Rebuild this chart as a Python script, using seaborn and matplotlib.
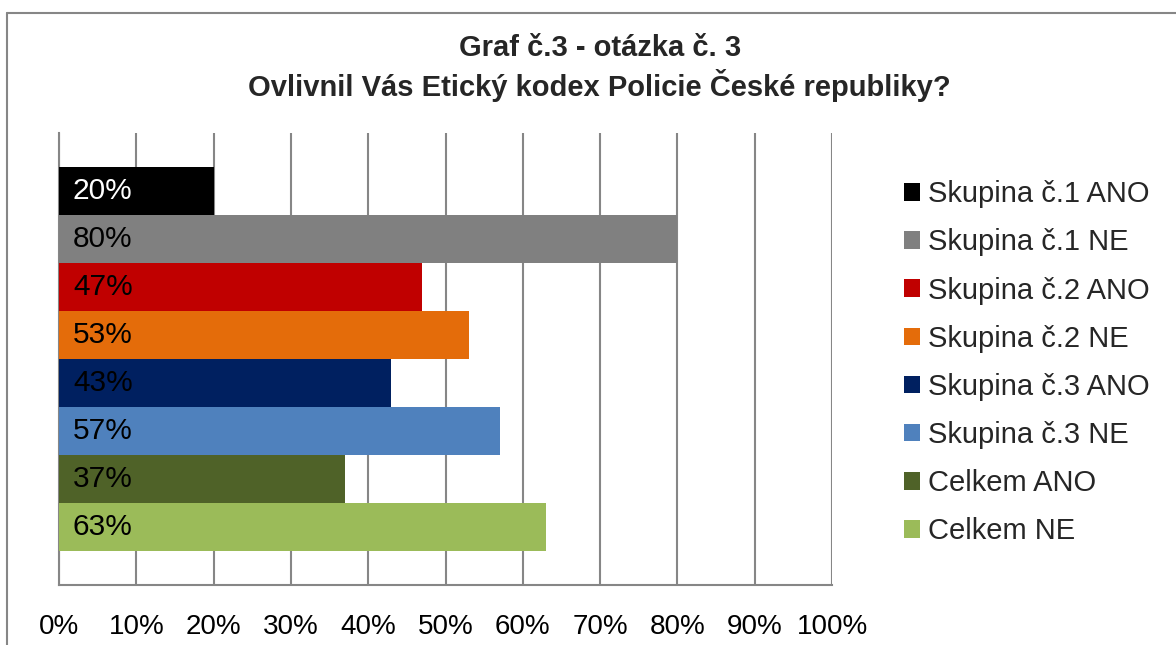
import matplotlib
matplotlib.use("Agg")
import matplotlib.pyplot as plt
import matplotlib.lines as mlines
import matplotlib.patches as mpatches
import seaborn as sns
import pandas as pd

# chart data
series = ["Skupina č.1 ANO", "Skupina č.1 NE", "Skupina č.2 ANO", "Skupina č.2 NE",
          "Skupina č.3 ANO", "Skupina č.3 NE", "Celkem ANO", "Celkem NE"]
values = [20, 80, 47, 53, 43, 57, 37, 63]
colors = ["#000000", "#808080", "#C00000", "#E46C0A",
          "#002060", "#4F81BD", "#4F6228", "#9BBB59"]
xticks = [0, 10, 20, 30, 40, 50, 60, 70, 80, 90, 100]

sns.set_style("white")
plt.rcParams["font.family"] = ["Liberation Sans", "DejaVu Sans"]

df = pd.DataFrame({"serie": series, "value": values})

fig = plt.figure(figsize=(11.76, 6.45), dpi=100)
ax = fig.add_axes([0.0502, 0.0930, 0.6573, 0.7008])

grid_col = "#868686"
sns.barplot(data=df, y="serie", x="value", hue="serie", palette=colors,
            saturation=1, dodge=False, width=1.0, legend=False, ax=ax,
            zorder=3, edgecolor="none", linewidth=0)

ax.set_xlim(0, 100)
ax.set_ylim(7.5 + 0.72, -0.5 - 0.72)
ax.set_xticks(xticks)
ax.set_xticklabels([f"{t}%" for t in xticks], fontsize=20)
ax.set_yticks([7.5 + 0.72, -0.5 - 0.72])
ax.set_yticklabels([])
ax.set_xlabel("")
ax.set_ylabel("")

ax.grid(axis="x", color=grid_col, linewidth=1.5, zorder=0)
ax.set_axisbelow(True)
for side in ["top", "right"]:
    ax.spines[side].set_visible(False)
for side in ["left", "bottom"]:
    ax.spines[side].set_color(grid_col)
    ax.spines[side].set_linewidth(1.5)
ax.tick_params(axis="both", length=9, width=1.5, color=grid_col, direction="out")
ax.tick_params(axis="x", pad=12, labelcolor="black")

# value labels inside bars
for i, v in enumerate(values):
    ax.text(1.8, i, f"{v}%", va="center", ha="left", fontsize=21.5,
            color="white" if i == 0 else "black", zorder=5)

# legend
handles = [mpatches.Patch(facecolor=c, edgecolor="none", label=s)
           for s, c in zip(series, colors)]
fig.legend(handles=handles, loc="upper left", bbox_to_anchor=(0.756, 0.743),
           frameon=False, fontsize=21, handlelength=0.55, handleheight=0.55,
           handletextpad=0.3, labelspacing=0.69, borderpad=0)

# title
fig.text(0.510, 0.925, "Graf č.3 - otázka č. 3", ha="center", va="center",
         fontsize=21, fontweight="bold")
fig.text(0.510, 0.867, "Ovlivnil Vás Etický kodex Policie České republiky?",
         ha="center", va="center", fontsize=21, fontweight="bold")

# chart frame (cropped: only top and left visible)
fig.add_artist(mlines.Line2D([7 / 1176, 1], [1 - 13 / 645, 1 - 13 / 645],
                             color=grid_col, linewidth=1.5))
fig.add_artist(mlines.Line2D([7 / 1176, 7 / 1176], [0, 1 - 13 / 645],
                             color=grid_col, linewidth=1.5))

fig.savefig("out.png", dpi=100)
